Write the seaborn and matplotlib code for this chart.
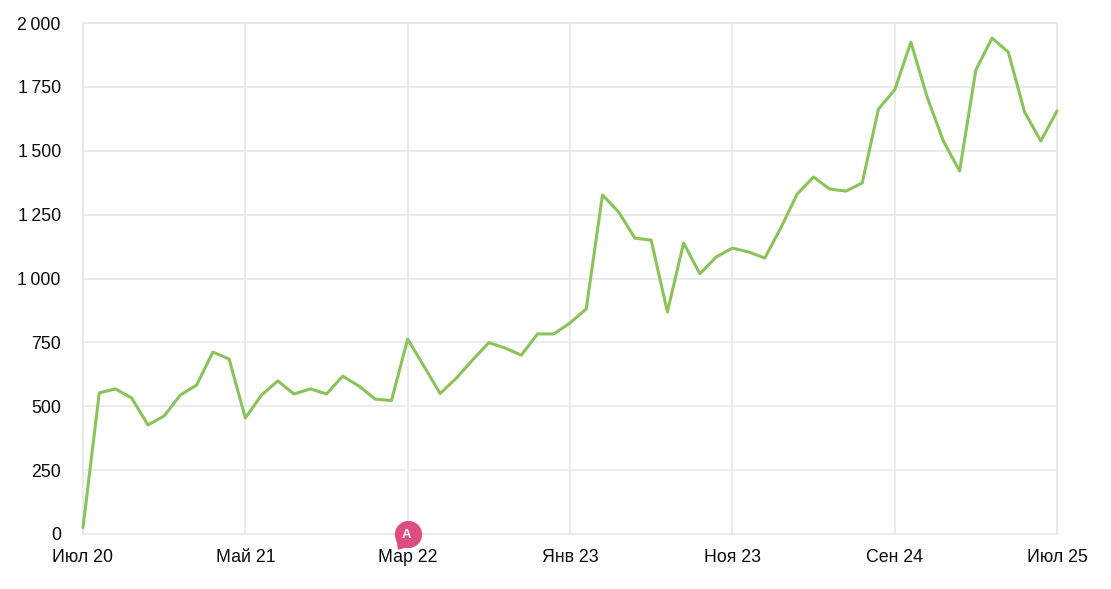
import matplotlib
matplotlib.use('Agg')
import matplotlib.pyplot as plt
from matplotlib.path import Path
import numpy as np
import pandas as pd
import seaborn as sns

# monthly values, Jul 20 .. Jul 25
values = [25, 552, 568, 532, 427, 462, 544, 583, 712, 685,
          454, 544, 599, 548, 568, 548, 618, 579, 528, 522,
          763, 657, 550, 610, 681, 749, 728, 700, 783, 783,
          826, 881, 1327, 1260, 1158, 1150, 869, 1139, 1018, 1084,
          1119, 1104, 1080, 1200, 1331, 1397, 1350, 1342, 1374, 1663,
          1738, 1925, 1710, 1538, 1421, 1816, 1941, 1886, 1652, 1538,
          1656]
x_ticks = [0, 10, 20, 30, 40, 50, 60]
x_labels = ['Июл 20', 'Май 21', 'Мар 22', 'Янв 23', 'Ноя 23', 'Сен 24', 'Июл 25']
y_ticks = [0, 250, 500, 750, 1000, 1250, 1500, 1750, 2000]
y_labels = ['0', '250', '500', '750', '1\u2009000', '1\u2009250', '1\u2009500', '1\u2009750', '2\u2009000']
badge_month = [20]
badge_value = [0]
badge_text = ['A']

sns.set_theme(style='whitegrid')
plt.rcParams['font.family'] = ['Liberation Sans', 'DejaVu Sans']

df = pd.DataFrame({'month': np.arange(len(values)), 'value': values})

fig = plt.figure(figsize=(11.11, 5.89), dpi=100)
ax = fig.add_axes([83 / 1111, 1 - 534 / 589, 974 / 1111, 511 / 589])
sns.lineplot(data=df, x='month', y='value', color='#8ac35a', linewidth=2.2, ax=ax, zorder=3, clip_on=False)

ax.set_xlim(0, 60)
ax.set_ylim(0, 2000)
ax.set_xticks(x_ticks)
ax.set_xticklabels(x_labels)
ax.set_yticks(y_ticks)
ax.set_yticklabels(y_labels)
ax.set_xlabel('')
ax.set_ylabel('')
ax.grid(True, color='#e6e6e6', linewidth=1.1)
ax.tick_params(axis='x', length=0, pad=10.5, labelsize=12.8, labelcolor='#0a0a0a')
ax.tick_params(axis='y', length=0, pad=16, labelsize=12.8, labelcolor='#0a0a0a')
for s in ax.spines.values():
    s.set_color('#e6e6e6')
    s.set_linewidth(1.1)

# annotation badge: circle with a small tail at lower left
circle = Path.unit_circle()
tail = Path([(-0.9, -0.3), (-0.78, -1.12), (-0.2, -0.98), (-0.9, -0.3)], closed=True)
badge = Path.make_compound_path(circle, tail)
ax.scatter(badge_month, badge_value, marker=badge, s=480, color='#dd4d7f', linewidths=0, zorder=5, clip_on=False)
for m, v, t in zip(badge_month, badge_value, badge_text):
    ax.annotate(t, (m, v), xytext=(-0.5, -1), textcoords='offset points', color='white',
                fontsize=9.5, fontweight='bold', ha='center', va='center', zorder=6)

fig.savefig('out.png', dpi=100)
